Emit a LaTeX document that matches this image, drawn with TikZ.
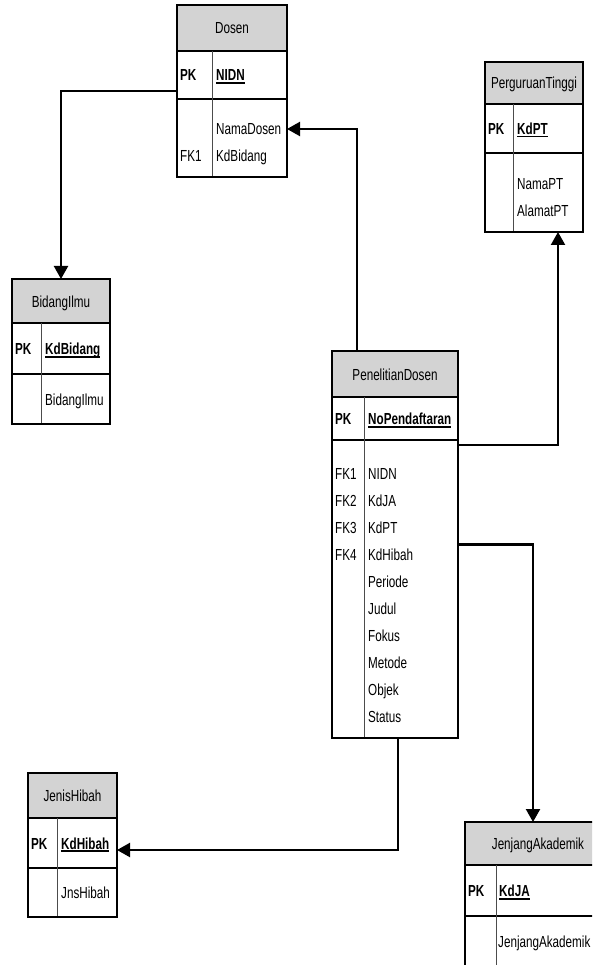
\documentclass[tikz,border=0pt]{standalone}
\usepackage{fontspec}
\setmainfont{Liberation Sans}[FakeStretch=0.73]
\usetikzlibrary{arrows.meta}

\definecolor{hdrgray}{RGB}{211,211,211}

% bold, underlined primary-key name
\newcommand\pkname[1]{\textbf{\setbox0\hbox{#1}\rlap{\rule[-3pt]{\wd0}{1.8pt}}\box0}}

% entity table: name, x, y, width, height, header bottom, key-row bottom, key-column width
\newcommand\ertable[8]{%
  \node[tblbox, minimum width=#4pt, minimum height=#5pt] (#1) at (#2,#3) {};
  \fill[hdrgray] (#1.north west) rectangle ++(#4,#6);
  \draw[rowsep] (#1.north west) ++(0,#6) -- ++(#4,0);
  \draw[rowsep] (#1.north west) ++(0,#7) -- ++(#4,0);
  \draw[colsep] (#1.north west) ++(#8,#6) -- ([xshift=#8pt]#1.south west);
  \draw[outline] (#1.north west) rectangle (#1.south east);
}

\begin{document}
\begin{tikzpicture}[x=1pt,y=-1pt,
  tblbox/.style={inner sep=0pt, outer sep=0pt, anchor=north west},
  rowsep/.style={line width=1.2pt, draw=black},
  colsep/.style={line width=1pt, draw=black!70},
  outline/.style={line width=1.2pt, draw=black},
  txt/.style={inner sep=0pt, anchor=base west, font=\fontsize{16}{19}\selectfont},
  ttl/.style={inner sep=0pt, anchor=base, font=\fontsize{16}{19}\selectfont},
  rel/.style={line width=2.2pt, draw=black, -{Triangle[length=13pt,width=14pt]}}]

\useasboundingbox (0,0) rectangle (592,965);
\clip (0,0) rectangle (592,965);

% ---------- Dosen ----------
\ertable{dosen}{177}{5}{110}{172}{46}{94}{35}
\node[ttl] (dosen-t) at (232,34) {Dosen};
\node[txt] (dosen-pk) at (180,81) {\textbf{PK}};
\node[txt] (dosen-k) at (216,81) {\pkname{NIDN}};
\node[txt] (dosen-a1) at (216,135) {NamaDosen};
\node[txt] (dosen-f1) at (180,162) {FK1};
\node[txt] (dosen-a2) at (216,162) {KdBidang};

% ---------- PerguruanTinggi ----------
\ertable{pt}{485}{62}{98}{170}{42}{91}{28}
\node[ttl] (pt-t) at (534,89) {PerguruanTinggi};
\node[txt] (pt-pk) at (488,134.5) {\textbf{PK}};
\node[txt] (pt-k) at (517,134.5) {\pkname{KdPT}};
\node[txt] (pt-a1) at (517,189.5) {NamaPT};
\node[txt] (pt-a2) at (517,216.5) {AlamatPT};

% ---------- BidangIlmu ----------
\ertable{bidang}{12}{279}{98}{145}{44}{95}{29}
\node[ttl] (bidang-t) at (61,307) {BidangIlmu};
\node[txt] (bidang-pk) at (15,354.5) {\textbf{PK}};
\node[txt] (bidang-k) at (45,354.5) {\pkname{KdBidang}};
\node[txt] (bidang-a1) at (45,405.5) {BidangIlmu};

% ---------- PenelitianDosen ----------
\ertable{pd}{332}{351}{126}{387}{46}{89}{32}
\node[ttl] (pd-t) at (395,380) {PenelitianDosen};
\node[txt] (pd-pk) at (335,424.5) {\textbf{PK}};
\node[txt] (pd-k) at (368,424.5) {\pkname{NoPendaftaran}};
\foreach \f [count=\i from 0] in {FK1,FK2,FK3,FK4}
  \node[txt] (pd-f\i) at (335,479+27.05*\i) {\f};
\foreach \a [count=\i from 0] in {NIDN,KdJA,KdPT,KdHibah,Periode,Judul,Fokus,Metode,Objek,Status}
  \node[txt] (pd-a\i) at (368,479+27.05*\i) {\a};

% ---------- JenisHibah ----------
\ertable{hibah}{28}{773}{89}{144}{45}{95}{29}
\node[ttl] (hibah-t) at (72.5,801) {JenisHibah};
\node[txt] (hibah-pk) at (31,849) {\textbf{PK}};
\node[txt] (hibah-k) at (61,849) {\pkname{KdHibah}};
\node[txt] (hibah-a1) at (61,898.5) {JnsHibah};

% ---------- JenjangAkademik ----------
\ertable{ja}{465}{822}{146}{170}{43}{94}{31}
\node[ttl] (ja-t) at (538,849.5) {JenjangAkademik};
\node[txt] (ja-pk) at (468,896.5) {\textbf{PK}};
\node[txt] (ja-k) at (499,896.5) {\pkname{KdJA}};
\node[txt] (ja-a1) at (498,947.5) {JenjangAkademik};

% ---------- relationships ----------
\draw[rel] (dosen.west) -| (bidang.north);
\draw[rel] ([xshift=-38pt]pd.north) |- ([yshift=-38pt]dosen.east);
\draw[rel] ([yshift=99.5pt]pd.east) -| ([xshift=24pt]pt.south);
\draw[rel] (pd.east) -| ([xshift=-5pt]ja.north);
\draw[rel] ([xshift=3pt]pd.south) |- ([yshift=-5pt]hibah.east);

\end{tikzpicture}
\end{document}
